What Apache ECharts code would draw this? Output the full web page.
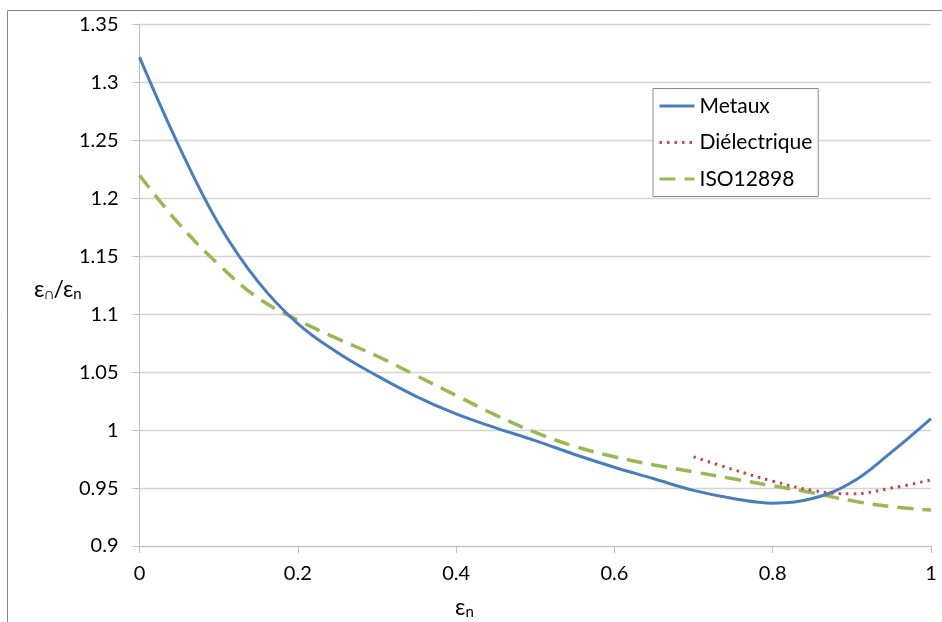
<!DOCTYPE html>
<html>
<head>
<meta charset="utf-8">
<script src="https://cdn.jsdelivr.net/npm/echarts@6/dist/echarts.min.js"></script>
<style>
  html, body { margin: 0; padding: 0; background: #fff; }
  #chart { width: 942px; height: 622px; }
</style>
</head>
<body>
<div id="chart"></div>
<script>
// Emissivity ratio versus normal emissivity
const xMetaux = [0, 0.05, 0.1, 0.15, 0.2, 0.25, 0.3, 0.35, 0.4, 0.45, 0.5, 0.55, 0.6, 0.65, 0.7, 0.75, 0.8, 0.85, 0.9, 0.95, 1.0];
const yMetaux = [1.322, 1.245, 1.178, 1.128, 1.092, 1.067, 1.047, 1.029, 1.014, 1.002, 0.991, 0.979, 0.968, 0.958, 0.948, 0.941, 0.937, 0.941, 0.955, 0.981, 1.010];

const xDielec = [0.7, 0.75, 0.8, 0.85, 0.9, 0.95, 1.0];
const yDielec = [0.977, 0.966, 0.956, 0.948, 0.945, 0.950, 0.957];

const xIso = [0, 0.05, 0.1, 0.15, 0.2, 0.25, 0.3, 0.35, 0.4, 0.45, 0.5, 0.55, 0.6, 0.65, 0.7, 0.75, 0.8, 0.85, 0.9, 0.95, 1.0];
const yIso = [1.220, 1.178, 1.143, 1.114, 1.095, 1.079, 1.064, 1.047, 1.030, 1.013, 0.998, 0.986, 0.977, 0.970, 0.964, 0.958, 0.952, 0.946, 0.939, 0.934, 0.931];

const seriesNames = ['Metaux', 'Diélectrique', 'ISO12898'];

function pairs(xs, ys) { return xs.map((x, i) => [x, ys[i]]); }

const FONT = 'Lato, "Open Sans", sans-serif';
const chart = echarts.init(document.getElementById('chart'));

chart.setOption({
  animation: false,
  backgroundColor: '#ffffff',
  textStyle: { fontFamily: FONT },
  grid: { left: 139.5, right: 11, top: 24.7, bottom: 76 },
  legend: {
    orient: 'vertical',
    left: 653, top: 88.5,
    padding: [7, 6, 7, 5],
    itemGap: 15.5,
    itemWidth: 35,
    itemHeight: 14,
    borderColor: '#8c8c8c',
    borderWidth: 1,
    backgroundColor: '#fff',
    itemStyle: { opacity: 0 },
    lineStyle: { width: 3 },
    textStyle: { fontSize: 21, lineHeight: 21, color: '#000', fontFamily: FONT },
    data: seriesNames
  },
  xAxis: {
    type: 'value',
    min: 0, max: 1, interval: 0.2,
    axisLine: { lineStyle: { color: '#bfbfbf', width: 1 } },
    axisTick: { show: true, length: 7, lineStyle: { color: '#bfbfbf' } },
    splitLine: { show: false },
    axisLabel: { fontSize: 20, color: '#000', margin: 18, fontFamily: FONT }
  },
  yAxis: {
    type: 'value',
    min: 0.9, max: 1.35, interval: 0.05,
    axisLine: { show: true, lineStyle: { color: '#bfbfbf', width: 1 } },
    axisTick: { show: true, length: 7, lineStyle: { color: '#bfbfbf' } },
    splitLine: { show: true, lineStyle: { color: '#d4d4d4', width: 1.3 } },
    axisLabel: {
      fontSize: 20, color: '#000', margin: 21, fontFamily: FONT,
      formatter: v => String(parseFloat(v.toFixed(2)))
    }
  },
  series: [
    {
      name: seriesNames[0], type: 'line', smooth: 0.4, symbol: 'none',
      data: pairs(xMetaux, yMetaux),
      lineStyle: { color: '#4a7ebb', width: 3 },
      itemStyle: { color: '#4a7ebb' }, z: 3
    },
    {
      name: seriesNames[1], type: 'line', smooth: 0.4, symbol: 'none',
      data: pairs(xDielec, yDielec),
      lineStyle: { color: '#be4b48', width: 3, type: [2.5, 5] },
      itemStyle: { color: '#be4b48' }, z: 4
    },
    {
      name: seriesNames[2], type: 'line', smooth: 0.4, symbol: 'none',
      data: pairs(xIso, yIso),
      lineStyle: { color: '#98b954', width: 3.5, type: [16, 9] },
      itemStyle: { color: '#98b954' }, z: 2
    }
  ],
  graphic: [
    {
      type: 'rect', silent: true, z: -10,
      shape: { x: 7.5, y: 10.5, width: 1000, height: 1000 },
      style: { fill: 'none', stroke: '#868686', lineWidth: 1 }
    },
    {
      type: 'text', left: 34, top: 278,
      style: {
        text: '{m|ε}{s|∩}{m|/ε}{s|n}',
        rich: {
          m: { fontSize: 23, fontFamily: FONT, fill: '#000' },
          s: { fontSize: 15, fontFamily: FONT, fill: '#000', verticalAlign: 'bottom', padding: [10, 0, 0, 0] }
        }
      }
    },
    {
      type: 'text', left: 455, top: 596,
      style: {
        text: '{m|ε}{s|n}',
        rich: {
          m: { fontSize: 23, fontFamily: FONT, fill: '#000' },
          s: { fontSize: 15, fontFamily: FONT, fill: '#000', verticalAlign: 'bottom', padding: [10, 0, 0, 0] }
        }
      }
    }
  ]
});
</script>
</body>
</html>
